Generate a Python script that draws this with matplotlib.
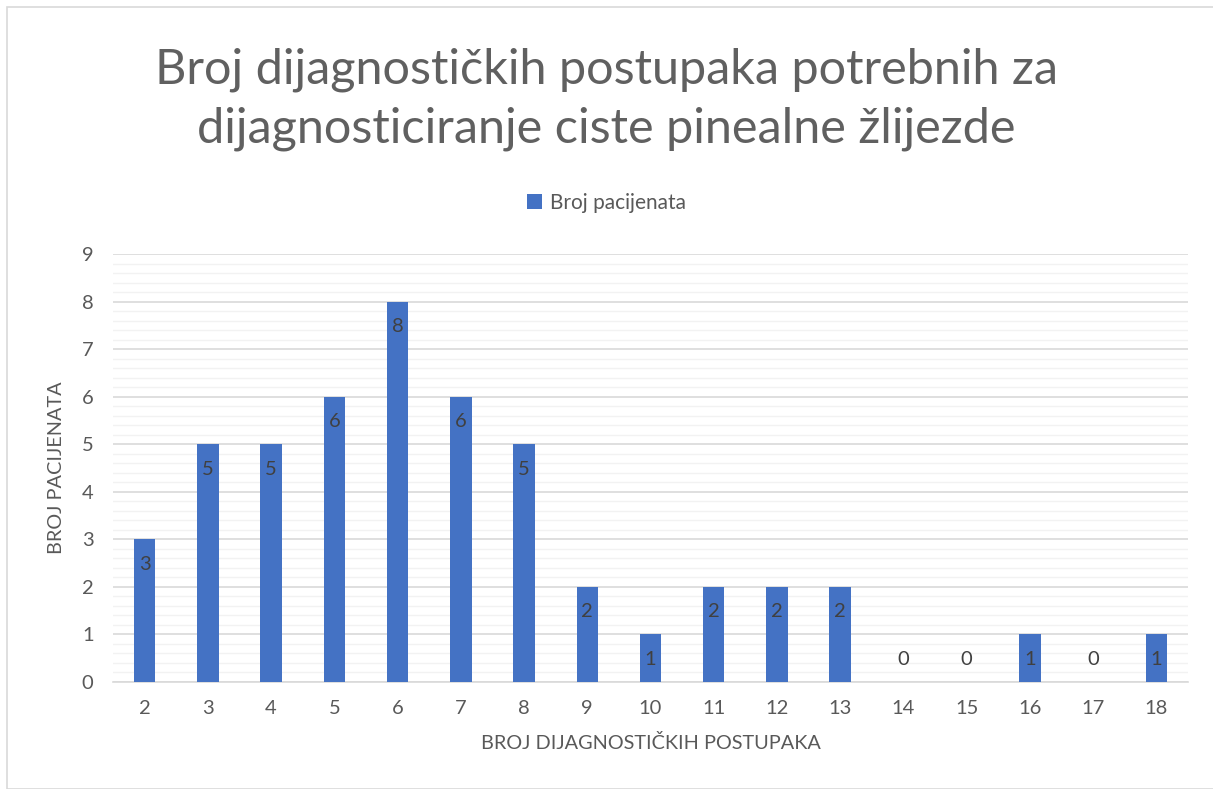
import matplotlib.pyplot as plt
from matplotlib.ticker import MultipleLocator
from matplotlib.patches import Rectangle

plt.rcParams['font.family'] = ['Lato', 'DejaVu Sans']

postupci = ['2', '3', '4', '5', '6', '7', '8', '9', '10', '11', '12', '13', '14', '15', '16', '17', '18']
pacijenti = [3, 5, 5, 6, 8, 6, 5, 2, 1, 2, 2, 2, 0, 0, 1, 0, 1]

bar_color = '#4472C4'
text_color = '#595959'

fig = plt.figure(figsize=(12.13, 7.89), dpi=100)
ax = fig.add_axes([113 / 1213, 1 - 682 / 789, 1075 / 1213, 428 / 789])

x = list(range(len(postupci)))
bars = ax.bar(x, pacijenti, width=0.34, color=bar_color, label='Broj pacijenata', zorder=3)

for xi, v in zip(x, pacijenti):
    ax.annotate(str(v), (xi, max(v, 1)), xytext=(0, -18), textcoords='offset points',
                ha='center', va='center', fontsize=14.5, color='#404040', zorder=4)

ax.set_xlim(-0.5, len(postupci) - 0.5)
ax.set_ylim(0, 9)
ax.set_xticks(x)
ax.set_xticklabels(postupci)
ax.yaxis.set_major_locator(MultipleLocator(1))
ax.yaxis.set_minor_locator(MultipleLocator(0.2))
ax.grid(axis='y', which='major', color='#D9D9D9', linewidth=1.2, zorder=0)
ax.grid(axis='y', which='minor', color='#F2F2F2', linewidth=1.0, zorder=0)
ax.tick_params(axis='both', which='both', length=0, labelsize=14.5, labelcolor=text_color)
ax.tick_params(axis='x', pad=13)
ax.tick_params(axis='y', pad=14)
for s in ['top', 'right', 'left']:
    ax.spines[s].set_visible(False)
ax.spines['bottom'].set_color('#D9D9D9')
ax.spines['bottom'].set_linewidth(1.2)

ax.set_xlabel('BROJ DIJAGNOSTIČKIH POSTUPAKA', fontsize=14.3, color=text_color, labelpad=12)
ax.set_ylabel('BROJ PACIJENATA', fontsize=14.3, color=text_color, labelpad=12)

fig.text(0.5, 1 - 99 / 789, 'Broj dijagnostičkih postupaka potrebnih za\ndijagnosticiranje ciste pinealne žlijezde',
         ha='center', va='center', fontsize=35, color='#606060', linespacing=1.4)

fig.legend(handles=[bars], loc='center', bbox_to_anchor=(0.5, 1 - 203 / 789), frameon=False,
           fontsize=15, labelcolor=text_color, handlelength=0.75, handleheight=0.75, handletextpad=0.4)

fig.patches.append(Rectangle((7 / 1213, 0), 1, 1 - 7 / 789, transform=fig.transFigure,
                             fill=False, edgecolor='#D9D9D9', linewidth=1.2))

fig.savefig('out.png', dpi=100)
